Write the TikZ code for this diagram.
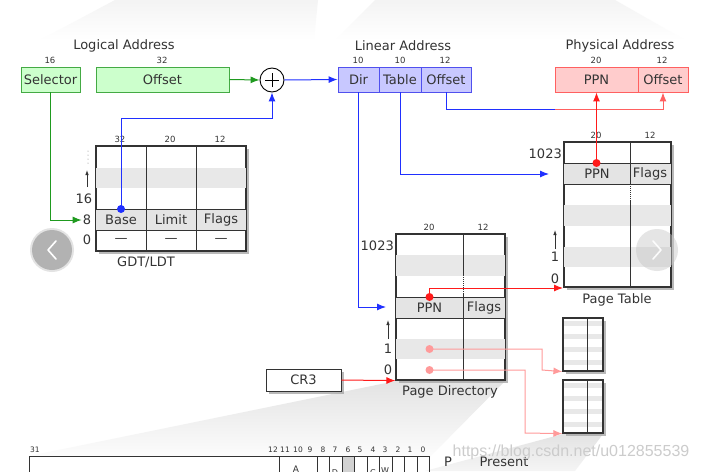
\documentclass[tikz,border=0pt]{standalone}
\usepackage{fontspec}
\setmainfont{DejaVu Sans}
\newfontfamily\wmfont{Liberation Sans}
\usetikzlibrary{arrows.meta}
\definecolor{gfill}{HTML}{CCFFCC}
\definecolor{gline}{HTML}{44AA44}
\definecolor{garrow}{HTML}{1F9A1F}
\definecolor{bfill}{HTML}{C8C8FF}
\definecolor{bline}{HTML}{5050EE}
\definecolor{barrow}{HTML}{2030FF}
\definecolor{rfill}{HTML}{FFCCCC}
\definecolor{rline}{HTML}{FF6060}
\definecolor{rarrow}{HTML}{FF1A1A}
\definecolor{pinkc}{HTML}{FF9A9A}
\definecolor{stripe}{HTML}{E8E8E8}
\definecolor{rowsh}{HTML}{E4E4E4}
\definecolor{textc}{HTML}{333333}
\definecolor{tline}{HTML}{333333}
\definecolor{shadowc}{HTML}{A8A8A8}
\tikzset{
  txt/.style={text=textc, font=\fontsize{13}{15}\selectfont, inner sep=1pt},
  small/.style={text=textc, font=\fontsize{8.5}{10}\selectfont, inner sep=0pt},
  field/.style={draw, line width=0.9pt, minimum height=25pt, inner sep=0pt, txt},
  gfield/.style={field, draw=gline, fill=gfill},
  bfield/.style={field, draw=bline, fill=bfill},
  rfield/.style={field, draw=rline, fill=rfill},
  tablebox/.style={draw=tline, line width=1.2pt, fill=white, inner sep=0pt},
  shadowfill/.style={fill=shadowc, opacity=0.8},
  grid/.style={draw=tline, line width=1pt},
  tip/.style={-{Latex[length=9pt,width=7pt]}},
  garr/.style={color=garrow, line width=1pt},
  barr/.style={color=barrow, line width=1pt},
  rarr/.style={color=rarrow, line width=1pt},
  parr/.style={color=pinkc, line width=1pt},
  dotc/.style={circle, inner sep=0pt, minimum size=8pt},
  upar/.style={-{Latex[length=5pt,width=3.5pt]}, line width=0.8pt, textc},
}
\begin{document}
\begin{tikzpicture}[x=1pt,y=-1pt]
\useasboundingbox (0,0) rectangle (701,471);
\clip (0,0) rectangle (701,471);
\fill[white] (0,0) rectangle (701,471);

% faint bands at top
\shade[top color=gray!9, bottom color=white] (40,40) -- (115,0) -- (318,0) -- (314,40) -- cycle;
\shade[top color=gray!9, bottom color=white] (335,40) -- (375,0) -- (615,0) -- (685,40) -- cycle;

% fan wedges
\shade[top color=gray!22, bottom color=gray!2] (396,381) -- (505,381) -- (430,457) -- (29,456) -- cycle;
\shade[top color=gray!22, bottom color=gray!8] (563,434) -- (603,434) -- (575,471) -- (425,471) -- cycle;

% shadows of the tables and CR3
\fill[shadowfill] (99,149) rectangle (249,254);
\fill[shadowfill] (567,145) rectangle (674,290);
\fill[shadowfill] (399,237) rectangle (508,383);
\fill[shadowfill] (566,321) rectangle (606,374);
\fill[shadowfill] (566,383) rectangle (606,436);
\fill[shadowfill] (269,372) rectangle (344,394);

% titles
\node[txt] (tlog) at (124,46) {Logical Address};
\node[txt] (tlin) at (403,46) {Linear Address};
\node[txt] (tphy) at (620,46) {Physical Address};

% logical address fields
\node[gfield, minimum width=59pt] (sel) at (50.5,79.5) {Selector};
\node[gfield, minimum width=133pt] (off) at (162.5,79.5) {Offset};
\node[small] at (50,60) {16};
\node[small] at (162,60) {32};

% adder
\node[circle, draw=black, line width=0.9pt, fill=white, minimum size=24pt, inner sep=0pt] (plus) at (272,80) {};
\draw[line width=0.9pt] ([xshift=-7pt]plus.center) -- ([xshift=7pt]plus.center);
\draw[line width=0.9pt] ([yshift=-7pt]plus.center) -- ([yshift=7pt]plus.center);

% linear address fields
\node[bfield, minimum width=41pt] (dir) at (358.5,79.5) {Dir};
\node[bfield, minimum width=42pt] (tab) at (400,79.5) {Table};
\node[bfield, minimum width=50pt] (loff) at (446,79.5) {Offset};
\node[small] at (358,60) {10};
\node[small] at (400,60) {10};
\node[small] at (445,60) {12};

% physical address fields
\node[rfield, minimum width=83pt] (ppn) at (596.5,79.5) {PPN};
\node[rfield, minimum width=50pt] (poff) at (663,79.5) {Offset};
\node[small] at (596,60) {20};
\node[small] at (662,60) {12};

% GDT/LDT table
\node[tablebox, minimum width=150pt, minimum height=105pt] (gdt) at (171,198.5) {};
\fill[stripe] (96,168) rectangle (246,188);
\fill[rowsh] (96,209) rectangle (246,230);
\draw[grid] (146,146) -- (146,251) (196,146) -- (196,251) (96,209) -- (246,209) (96,230) -- (246,230);
\draw[tline, line width=1.2pt] (gdt.north west) rectangle (gdt.south east);
\node[txt] at (121,220) {Base};
\node[txt] at (171,220) {Limit};
\node[txt] at (221,220) {Flags};
\node[txt] at (121,240) {—};
\node[txt] at (171,240) {—};
\node[txt] at (221,240) {—};
\node[small] at (120,139) {32};
\node[small] at (170,139) {20};
\node[small] at (220,139) {12};
\node[txt] (g16) at (84,199) {16};
\node[txt] (g8) at (87,220) {8};
\node[txt] (g0) at (87,240) {0};
\draw[upar] (87,187) -- (87,170);
\foreach \yy in {151,155,159,163} \fill[gray] (88,\yy) circle (0.5pt);
\node[txt] at (146,262) {GDT/LDT};

% Page Table
\node[tablebox, minimum width=107pt, minimum height=145pt] (pt) at (617.5,214.5) {};
\fill[stripe] (564,205) rectangle (671,226);
\fill[stripe] (564,247) rectangle (671,267);
\fill[rowsh] (564,163) rectangle (671,184);
\draw[grid] (630,142) -- (630,287) (564,163) -- (671,163) (564,184) -- (671,184);
\draw[white, line width=1pt, dash pattern=on 1pt off 1pt] (630,185) -- (630,201);
\draw[tline, line width=1.2pt] (pt.north west) rectangle (pt.south east);
\node[txt] at (597,174) {PPN};
\node[txt] at (650,174) {Flags};
\node[small] at (596,135) {20};
\node[small] at (650,135) {12};
\node[txt, anchor=east] at (563,154) {1023};
\node[txt] at (555,257) {1};
\node[txt] at (555,279) {0};
\draw[upar] (555,249) -- (555,230);
\node[txt] at (617,300) {Page Table};

% Page Directory
\node[tablebox, minimum width=109pt, minimum height=146pt] (pd) at (450.5,307) {};
\fill[stripe] (396,255) rectangle (505,276);
\fill[stripe] (396,339) rectangle (505,359);
\fill[rowsh] (396,297) rectangle (505,318);
\draw[grid] (463,234) -- (463,380) (396,297) -- (505,297) (396,318) -- (505,318);
\draw[white, line width=1pt, dash pattern=on 1pt off 1pt] (463,276) -- (463,293);
\draw[tline, line width=1.2pt] (pd.north west) rectangle (pd.south east);
\node[txt] at (429.5,308) {PPN};
\node[txt] at (484,308) {Flags};
\node[small] at (429,227) {20};
\node[small] at (483,227) {12};
\node[txt, anchor=east] at (395,246) {1023};
\node[txt] at (388,349) {1};
\node[txt] at (388,370) {0};
\draw[upar] (388,339) -- (388,320);
\node[txt] at (450,392) {Page Directory};

% small page tables
\node[tablebox, minimum width=40pt, minimum height=53pt] (spa) at (583,344.5) {};
\foreach \yy in {321,334,347,360} \fill[stripe] (564,\yy) rectangle (602,\yy+5);
\draw[grid] (587,318) -- (587,371);
\draw[tline, line width=1.2pt] (spa.north west) rectangle (spa.south east);
\node[tablebox, minimum width=40pt, minimum height=53pt] (spb) at (583,406.5) {};
\foreach \yy in {383,396,409,422} \fill[stripe] (564,\yy) rectangle (602,\yy+5);
\draw[grid] (587,380) -- (587,433);
\draw[tline, line width=1.2pt] (spb.north west) rectangle (spb.south east);

% CR3
\node[field, draw=tline, fill=white, minimum width=75pt, minimum height=22pt] (cr3) at (303.5,380) {CR3};

% dots
\node[dotc, fill=barrow] (based) at (121,209) {};
\node[dotc, fill=rarrow] (ptd) at (596.5,163) {};
\node[dotc, fill=rarrow] (pdd) at (429.5,297) {};
\node[dotc, fill=pinkc] (pd1) at (429.5,349) {};
\node[dotc, fill=pinkc] (pd0) at (429.5,370) {};

% connectors
\coordinate (bb) at (121,118);
\coordinate (pdin) at (386,307);
\coordinate (ptin) at (549,174);
\coordinate (ofm) at (555,109);
\coordinate (ptc) at (563,288);
\coordinate (ka) at (542,370);
\coordinate (kb) at (525,433);
\draw[garr, tip] (off.east) -- (plus.west);
\draw[barr, tip] (plus.east) -- (dir.west);
\draw[garr, tip] (sel.south) |- (g8.west);
\draw[barr, tip] (based.center) -- (bb) -| (plus.south);
\draw[barr, tip] (dir.south) |- (pdin);
\draw[barr, tip] (tab.south) |- (ptin);
\draw[barr] (loff.south) |- (ofm);
\draw[rline, line width=1pt, tip] (ofm) -| (poff.south);
\draw[rarr, tip] (ptd.center) -- (ppn.south);
\draw[rarr, tip] (pdd.center) |- (ptc);
\draw[parr, tip] (pd1.center) -| (ka) -- (spa.south west);
\draw[parr, tip] (pd0.center) -| (kb) -- (spb.south west);
\draw[rarr, tip] (cr3.east) -- (pd.south west);

% register (cropped)
\fill[gray!35] (342,456) rectangle (354,480);
\draw[tline, line width=1pt] (29,456) rectangle (429,480);
\foreach \xx in {279,317,329,342,354,367,379,392,404,417} \draw[tline, line width=1pt] (\xx,456) -- (\xx,480);
\node[small, font=\fontsize{7.5}{9}\selectfont] at (35,450) {31};
\foreach \xx/\bb in {273/12,285/11,298/10,310/9,323/8,335/7,348/6,360/5,373/4,385/3,398/2,410/1,423/0}
  \node[small, font=\fontsize{7.5}{9}\selectfont] at (\xx,450) {\bb};
\node[small, font=\fontsize{9}{10}\selectfont] at (296,469) {A};
\node[small, font=\fontsize{8}{9}\selectfont] at (335,473) {D};
\node[small, font=\fontsize{8}{9}\selectfont] at (373,473) {C};
\node[small, font=\fontsize{8}{9}\selectfont] at (385,471) {W};
\node[txt] at (448,462) {P};
\node[txt] at (504,462) {Present};

% watermark
\node[text=gray!40, font=\wmfont\fontsize{16}{18}\selectfont, inner sep=0pt] at (571,452) {https://blog.csdn.net/u012855539};

% carousel buttons
\fill[gray!22] (52,250) circle (22);
\fill[gray!60!white] (52,250) circle (20);
\draw[white, line width=1.6pt, line cap=round, line join=round] (56,241) -- (48,250) -- (56,259);
\fill[gray!45, opacity=0.45] (657,250) circle (21);
\draw[white, line width=1.6pt, line cap=round, line join=round, opacity=0.9] (653,241) -- (661,250) -- (653,259);
\end{tikzpicture}
\end{document}
